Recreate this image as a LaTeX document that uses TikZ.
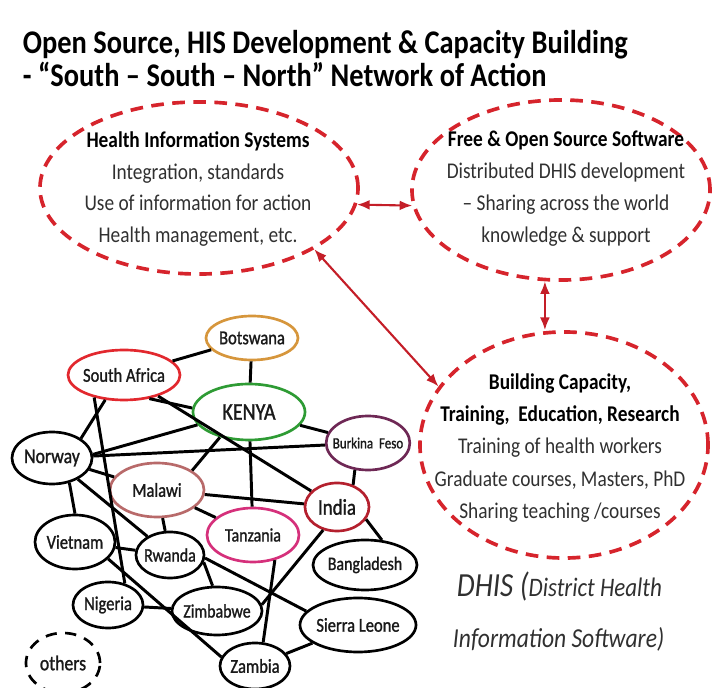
\documentclass[tikz,border=0pt]{standalone}
\usepackage{fontspec}
\setmainfont{Carlito}[FakeStretch=0.86]
\newfontfamily\netfont{Carlito}[FakeStretch=0.84, FakeBold=1.2]
\usetikzlibrary{shapes.geometric, arrows.meta}

\definecolor{ringred}{RGB}{214,36,44}
\definecolor{arrowred}{RGB}{196,30,40}
\definecolor{bwgold}{RGB}{214,150,60}
\definecolor{sared}{RGB}{226,40,46}
\definecolor{kegreen}{RGB}{46,155,52}
\definecolor{bfplum}{RGB}{110,40,85}
\definecolor{mwrose}{RGB}{184,106,106}
\definecolor{inred}{RGB}{180,32,46}
\definecolor{tzpink}{RGB}{213,48,123}
\definecolor{inkgray}{RGB}{48,48,48}

\tikzset{
  country/.style={ellipse, draw, line width=1.9pt, inner sep=-4pt, text=black!90, font=\netfont\fontsize{14}{16}\selectfont},
  link/.style={line width=2.1pt},
  bigring/.style={ellipse, draw=ringred, line width=2.6pt, dash pattern=on 9pt off 6pt},
  ringtext/.style={align=center, text=inkgray, font=\fontsize{16}{22.7}\selectfont},
  twoway/.style={{Latex[length=9pt,width=7pt]}-{Latex[length=9pt,width=7pt]}, draw=arrowred, line width=1.5pt},
}

\begin{document}
\begin{tikzpicture}[x=0.025cm, y=-0.025cm]
  \useasboundingbox (0,0) rectangle (712,688);

  % title
  \node[anchor=base west, font=\fontsize{23.5}{28}\selectfont\bfseries] (title1) at (18,54) {Open Source, HIS Development \& Capacity Building};
  \node[anchor=base west, font=\fontsize{23.5}{28}\selectfont\bfseries] (title2) at (18,87) {- “South – South – North” Network of Action};

  % the three themes
  \node[bigring, minimum width=7.95cm, minimum height=4.3cm] (his) at (199,188) {};
  \node[ringtext] (histext) at (198,189) {\textcolor{black}{\bfseries Health Information Systems}\\Integration, standards\\Use of information for action\\Health management, etc.};

  \node[bigring, minimum width=7.45cm, minimum height=4.5cm] (foss) at (561,190) {};
  \node[ringtext] (fosstext) at (566,189) {\textcolor{black}{\bfseries Free \& Open Source Software}\\Distributed DHIS development\\– Sharing across the world\\knowledge \& support};

  \node[bigring, minimum width=7.2cm, minimum height=5.65cm] (cap) at (564,445) {};
  \node[ringtext, font=\fontsize{16}{23}\selectfont] (captext) at (560,448) {\textcolor{black}{\bfseries Building Capacity,}\\\textcolor{black}{\bfseries Training,\ \ Education, Research}\\Training of health workers\\Graduate courses, Masters, PhD\\Sharing teaching /courses};

  \draw[twoway] (his.-6) -- (foss.186);
  \draw[twoway] (foss.260) -- (foss.260 |- cap.north);
  \draw[twoway] (his.-28) -- (cap.155);

  \node[anchor=base west, text=inkgray, font=\itshape\fontsize{19}{24}\selectfont] (dhis1) at (452,597) {{\fontsize{24}{28}\selectfont DHIS (}District Health};
  \node[anchor=base west, text=inkgray, font=\itshape\fontsize{19.5}{24}\selectfont] (dhis2) at (448,648) {Information Software)};

  % the network
  \node[country, draw=bwgold, minimum width=2.3cm, minimum height=1.1cm] (botswana) at (252,338) {Botswana};
  \node[country, draw=sared, minimum width=2.8cm, minimum height=1.25cm] (safrica) at (124,375) {South Africa};
  \node[country, draw=kegreen, minimum width=2.8cm, minimum height=1.4cm, font=\netfont\fontsize{17}{19}\selectfont] (kenya) at (249,412) {KENYA};
  \node[country, draw=bfplum, minimum width=2.05cm, minimum height=1.35cm, font=\netfont\fontsize{11}{13}\selectfont] (burkina) at (368,443) {Burkina\ \ Feso};
  \node[country, minimum width=2cm, minimum height=1.3cm, font=\netfont\fontsize{15}{17}\selectfont] (norway) at (52,458) {Norway};
  \node[country, draw=mwrose, minimum width=2.35cm, minimum height=1.35cm] (malawi) at (157,490) {Malawi};
  \node[country, draw=inred, minimum width=1.6cm, minimum height=1.2cm, font=\netfont\fontsize{16}{18}\selectfont] (india) at (337,507) {India};
  \node[country, draw=tzpink, minimum width=2.3cm, minimum height=1.35cm, font=\netfont\fontsize{13.5}{16}\selectfont] (tanzania) at (253,535) {Tanzania};
  \node[country, minimum width=2cm, minimum height=1.35cm] (vietnam) at (75,542) {Vietnam};
  \node[country, minimum width=1.7cm, minimum height=1.15cm, font=\netfont\fontsize{13.5}{16}\selectfont] (rwanda) at (170,555) {Rwanda};
  \node[country, minimum width=2.6cm, minimum height=1.25cm, font=\netfont\fontsize{13.5}{16}\selectfont] (bangladesh) at (365,565) {Bangladesh};
  \node[country, minimum width=1.75cm, minimum height=1.15cm] (nigeria) at (108,605) {Nigeria};
  \node[country, minimum width=2.25cm, minimum height=1.2cm, font=\netfont\fontsize{13.5}{16}\selectfont] (zimbabwe) at (217,611) {Zimbabwe};
  \node[country, minimum width=2.9cm, minimum height=1.35cm] (sierra) at (358,625) {Sierra Leone};
  \node[country, minimum width=1.75cm, minimum height=1.15cm] (zambia) at (255,666) {Zambia};
  \node[country, dash pattern=on 8pt off 6pt, minimum width=1.85cm, minimum height=1.5cm, font=\netfont\fontsize{15}{17}\selectfont] (others) at (63,663) {others};

  \draw[link] (safrica) -- (botswana);
  \draw[link] (botswana) -- (kenya);
  \draw[link] (safrica.-43) -- (kenya.176);
  \draw[link] (safrica) -- (india);
  \draw[link] (safrica.233) -- (norway.34);
  \draw[link] (safrica.217) -- (nigeria.52);
  \draw[link] (norway.5) -- (kenya.194);
  \draw[link] (norway) -- (burkina);
  \draw[link] (norway) -- (malawi);
  \draw[link] (norway.-55) -- (vietnam.north);
  \draw[link] (norway) -- (rwanda);
  \draw[link] (kenya.221) -- (malawi.29);
  \draw[link] (kenya) -- (tanzania);
  \draw[link] (kenya) -- (burkina);
  \draw[link] (burkina.244) -- (india.54);
  \draw[link] (malawi) -- (india);
  \draw[link] (malawi) -- (tanzania);
  \draw[link] (malawi) -- (rwanda);
  \draw[link] (india.-23) -- (bangladesh.56);
  \draw[link] (india.239) -- (zimbabwe.8);
  \draw[link] (tanzania.-49) -- (zambia.71);
  \draw[link] (rwanda.-12) -- (zimbabwe.100);
  \draw[link] (rwanda.-5) -- (sierra.165);
  \draw[link] (sierra) -- (zambia);
  \draw[link] (vietnam) -- (rwanda);
  \draw[link] (vietnam.-27) -- (zambia.165);
  \draw[link] (nigeria) -- (zimbabwe);
\end{tikzpicture}
\end{document}
